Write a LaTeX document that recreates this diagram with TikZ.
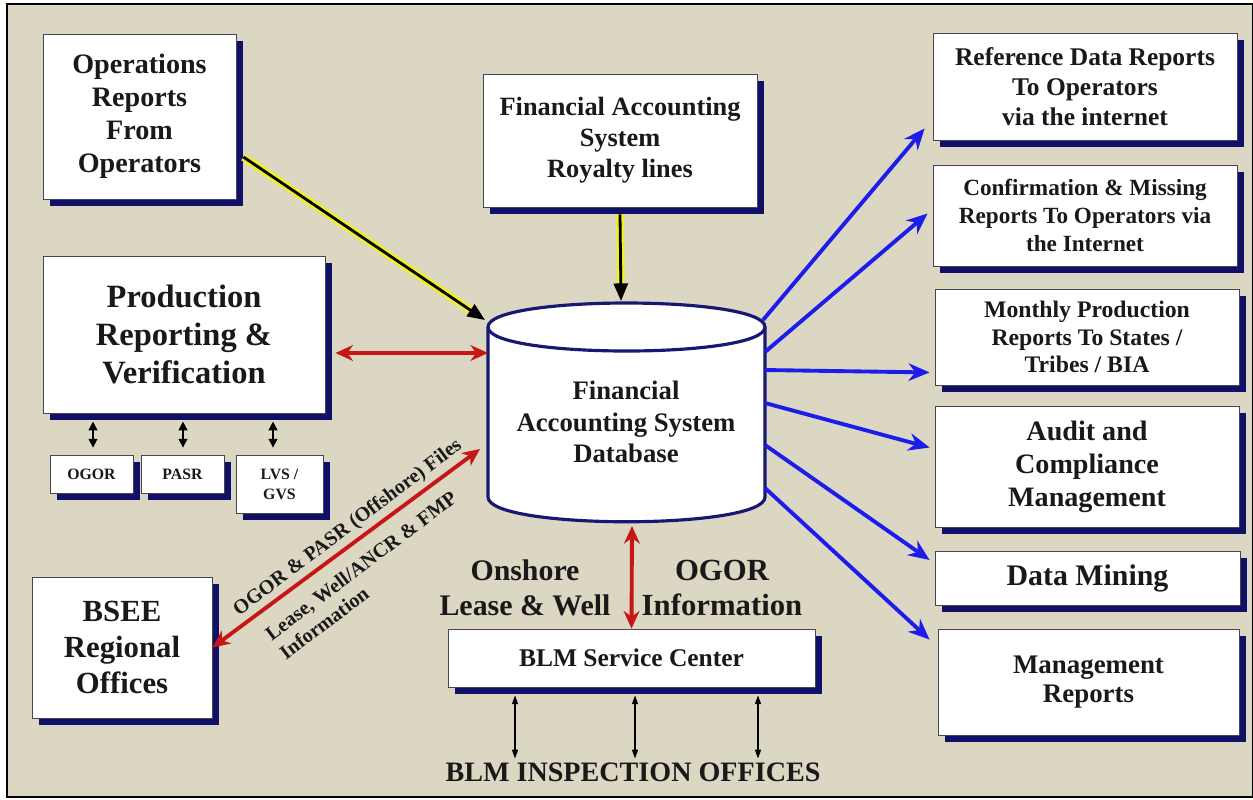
\documentclass[tikz,border=0pt]{standalone}
\usepackage{fontspec}
\setmainfont{Liberation Serif}
\usetikzlibrary{arrows.meta,shadows}

\definecolor{panel}{RGB}{219,215,195}
\definecolor{navyshade}{RGB}{16,16,105}
\definecolor{boxedge}{RGB}{70,70,80}
\definecolor{flowblue}{RGB}{28,28,235}
\definecolor{flowred}{RGB}{200,22,22}
\definecolor{glow}{RGB}{240,240,40}
\definecolor{drum}{RGB}{24,24,115}
\definecolor{ink}{RGB}{25,25,25}

\newcommand{\fsz}[2]{\fontsize{#1}{#2}\selectfont\bfseries}

\begin{document}
\begin{tikzpicture}[x=0.02cm,y=-0.02cm,
    box/.style={draw=boxedge, line width=0.5pt, fill=white, align=center, text=ink, inner sep=1pt,
      drop shadow={shadow xshift=4pt, shadow yshift=-4pt, fill=navyshade, opacity=1}},
    flowtext/.style={align=center, text=ink, inner sep=1pt},
    outflow/.style={draw=flowblue, line width=2.2pt, -{Stealth[length=12pt,width=10pt]}},
    redflow/.style={draw=flowred, line width=2.2pt, {Stealth[length=10pt,width=9pt]}-{Stealth[length=10pt,width=9pt]}},
    feed/.style={draw=black, line width=1.6pt, -{Triangle[length=10pt,width=8pt]},
      preaction={draw=glow, line width=4.5pt, -, shorten >=8pt}},
    stub/.style={draw=black, line width=0.9pt, {Triangle[length=5pt,width=5pt]}-{Triangle[length=5pt,width=5pt]}},
    probe/.style={draw=black, line width=0.6pt, {Triangle[length=5pt,width=3.5pt]}-{Triangle[length=5pt,width=3.5pt]}}
  ]
  \useasboundingbox (0,0) rectangle (1253,799);
  \fill[white] (0,0) rectangle (1253,799);
  \draw[black, line width=0.8pt, fill=panel] (7,4) rectangle (1253,797);

  % left side
  \node[box, minimum width=3.86cm, minimum height=3.3cm, font={\fsz{16}{18.7}}] (ops) at (139.5,116.5) {Operations\\Reports\\From\\Operators};
  \node[box, minimum width=5.64cm, minimum height=3.14cm, font={\fsz{18.5}{21.5}}] (prod) at (184,334.5) {Production\\Reporting \&\\Verification};
  \node[box, minimum width=1.66cm, minimum height=0.76cm, font={\fsz{9}{11}}] (ogor) at (91.5,474) {OGOR};
  \node[box, minimum width=1.66cm, minimum height=0.76cm, font={\fsz{9}{11}}] (pasr) at (182.5,474) {PASR};
  \node[box, minimum width=1.74cm, minimum height=1.16cm, font={\fsz{9}{11.5}}] (lvs) at (279.5,484) {LVS /\\GVS};
  \node[box, minimum width=3.6cm, minimum height=2.82cm, font={\fsz{17.5}{20.4}}] (bsee) at (122,647.5) {BSEE\\Regional\\Offices};

  % middle
  \node[box, minimum width=5.48cm, minimum height=2.66cm, font={\fsz{15}{17.6}}] (fas) at (620,140.5) {Financial Accounting\\System\\Royalty lines};
  \node[box, minimum width=7.34cm, minimum height=1.16cm, font={\fsz{14.5}{17}}] (blm) at (631.5,658) {BLM Service Center};

  % database drum
  \draw[drum, line width=1.8pt, fill=white] (488,327) -- (488,497) .. controls (488,530) and (765,530) .. (765,497)
    -- (765,327) .. controls (765,295) and (488,295) .. (488,327) -- cycle;
  \draw[drum, line width=1.8pt] (488,327) .. controls (488,359) and (765,359) .. (765,327);
  \node[flowtext, font={\fsz{15.2}{17.8}}] (db) at (626,422) {Financial\\Accounting System\\Database};
  \coordinate (db-nw) at (485,320);
  \coordinate (db-top) at (621,301);
  \coordinate (db-w) at (488,353);
  \coordinate (db-sw) at (480,449);
  \coordinate (db-s) at (632,526);
  \coordinate (db-e1) at (763,320);
  \coordinate (db-e2) at (765,352);
  \coordinate (db-e3) at (765,370);
  \coordinate (db-e4) at (765,403);
  \coordinate (db-e5) at (765,445);
  \coordinate (db-e6) at (765,488);

  % right side
  \node[box, minimum width=6.08cm, minimum height=2.14cm, font={\fsz{14.5}{17}}] (ref) at (1085,86.5) {Reference Data Reports\\To Operators\\via the internet};
  \node[box, minimum width=6.08cm, minimum height=2.02cm, font={\fsz{13.2}{16}}] (conf) at (1085,215.5) {Confirmation \& Missing\\Reports To Operators via\\the Internet};
  \node[box, minimum width=6.08cm, minimum height=1.92cm, font={\fsz{13.5}{15.5}}] (month) at (1087,337) {Monthly Production\\Reports To States /\\Tribes / BIA};
  \node[box, minimum width=6.08cm, minimum height=2.42cm, font={\fsz{16}{18.7}}] (audit) at (1087,466.5) {Audit and\\Compliance\\Management};
  \node[box, minimum width=6.1cm, minimum height=1.08cm, font={\fsz{17}{20}}] (mining) at (1087.5,578) {Data Mining};
  \node[box, minimum width=6.02cm, minimum height=2.12cm, font={\fsz{15.3}{17}}] (mgmt) at (1088.5,682) {Management\\Reports};

  % free labels
  \node[flowtext, rotate=37, font={\fsz{11.5}{13.5}}] (filesnote) at (348,528) {OGOR \& PASR (Offshore) Files};
  \node[flowtext, rotate=37, align=left, font={\fsz{11.5}{13.5}}] (leasenote) at (368,575) {Lease, Well/ANCR \& FMP\\Information};
  \node[flowtext, font={\fsz{17}{19.8}}] (onshore) at (525,588) {Onshore\\Lease \& Well};
  \node[flowtext, font={\fsz{17.5}{19.8}}] (ogorinfo) at (722,588) {OGOR\\Information};
  \node[flowtext, font={\fsz{16}{18}}] (insp) at (633,772) {BLM INSPECTION OFFICES};

  % connectors
  \draw[feed] ([shift={(7,40.5)}]ops.east) -- (db-nw);
  \draw[feed] ([shift={(0,7)}]fas.south) -- (db-top);
  \draw[redflow] ([shift={(10,18.5)}]prod.east) -- (db-w);
  \draw[redflow] (bsee.east) -- (db-sw);
  \draw[redflow] (db-s) -- (blm.north);

  \draw[outflow] (db-e1) -- ([shift={(-8,-12)}]ref.south west);
  \draw[outflow] (db-e2) -- ([shift={(-5,-2)}]conf.west);
  \draw[outflow] (db-e3) -- ([shift={(-5,-13)}]month.south west);
  \draw[outflow] (db-e4) -- ([shift={(-5,-19)}]audit.west);
  \draw[outflow] (db-e5) -- ([shift={(-5,-18)}]mining.west);
  \draw[outflow] (db-e6) -- ([shift={(-8,11)}]mgmt.north west);

  \draw[stub] ([shift={(1.5,-7)}]ogor.north) -- ([shift={(1.5,-33)}]ogor.north);
  \draw[stub] ([shift={(0.5,-7)}]pasr.north) -- ([shift={(0.5,-33)}]pasr.north);
  \draw[stub] ([shift={(-6.5,-7)}]lvs.north) -- ([shift={(-6.5,-33)}]lvs.north);

  \draw[probe] ([shift={(-116.5,8)}]blm.south) -- ([shift={(-116.5,71)}]blm.south);
  \draw[probe] ([shift={(3.5,8)}]blm.south) -- ([shift={(3.5,71)}]blm.south);
  \draw[probe] ([shift={(126.5,8)}]blm.south) -- ([shift={(126.5,71)}]blm.south);
\end{tikzpicture}
\end{document}
